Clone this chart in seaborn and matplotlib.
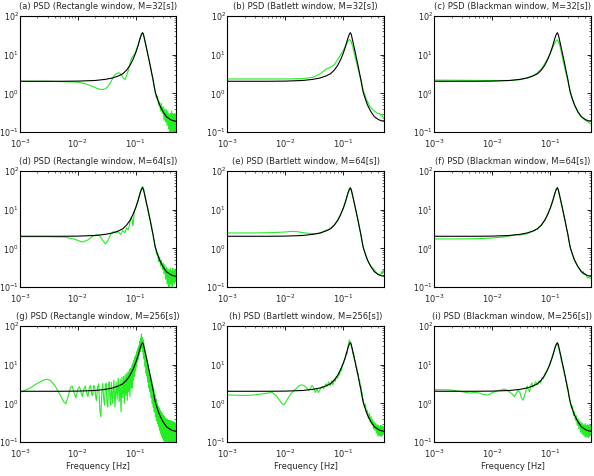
import numpy as np
import pandas as pd
import matplotlib
matplotlib.use("Agg")
import matplotlib.pyplot as plt
import seaborn as sns

# ---------------- data ----------------
true_freq = [0.001, 0.005, 0.01, 0.02, 0.03, 0.04, 0.05, 0.06, 0.07, 0.08, 0.09, 0.1,
             0.11, 0.12, 0.127, 0.132, 0.137, 0.142, 0.15, 0.16, 0.17, 0.18, 0.19, 0.2,
             0.21, 0.22, 0.24, 0.26, 0.28, 0.3, 0.34, 0.4, 0.45, 0.5]
true_psd = [2.05, 2.05, 2.07, 2.15, 2.3, 2.5, 2.8, 3.2, 4.0, 5.3, 7.5, 11,
            17, 27, 34, 37, 33, 26, 18, 11.5, 7.5, 5.0, 3.3, 2.3,
            1.5, 1.05, 0.7, 0.5, 0.4, 0.33, 0.25, 0.21, 0.195, 0.19]

freq_a = [0.001, 0.003, 0.006, 0.01, 0.014, 0.018, 0.022, 0.026, 0.03, 0.034, 0.038, 0.042,
          0.047, 0.052, 0.057, 0.062, 0.066, 0.07, 0.075, 0.08, 0.085, 0.09, 0.1, 0.11,
          0.12, 0.127, 0.132, 0.137, 0.142, 0.15, 0.16, 0.17, 0.18, 0.19, 0.2, 0.21,
          0.22, 0.23, 0.24, 0.25, 0.26, 0.27, 0.28, 0.29, 0.3, 0.31, 0.32, 0.33, 0.34,
          0.35, 0.36, 0.37, 0.38, 0.39, 0.4, 0.41, 0.42, 0.43, 0.44, 0.45, 0.46, 0.47,
          0.48, 0.49, 0.5]
psd_a = [2.05, 2.05, 2.0, 1.95, 1.75, 1.5, 1.32, 1.25, 1.3, 1.55, 2.1, 2.8,
         3.3, 3.4, 3.0, 2.4, 2.3, 2.9, 4.0, 6.0, 8.0, 9.0, 11.5, 17,
         27, 34, 37, 33, 26, 18, 11.5, 7.5, 5.0, 3.3, 2.3, 1.5,
         1.05, 0.75, 0.85, 0.5, 0.6, 0.35, 0.55, 0.3, 0.45, 0.2, 0.4, 0.18, 0.38,
         0.15, 0.35, 0.12, 0.3, 0.1, 0.3, 0.09, 0.35, 0.1, 0.3, 0.08, 0.28, 0.09,
         0.3, 0.1, 0.25]

freq_b = [0.001, 0.005, 0.01, 0.02, 0.03, 0.04, 0.05, 0.06, 0.07, 0.08, 0.09, 0.1,
          0.11, 0.12, 0.127, 0.132, 0.137, 0.145, 0.155, 0.165, 0.18, 0.2, 0.22, 0.25,
          0.28, 0.3, 0.33, 0.36, 0.39, 0.42, 0.44, 0.46, 0.48, 0.5]
psd_b = [2.35, 2.35, 2.35, 2.4, 2.6, 3.2, 4.2, 4.7, 5.5, 7.5, 10, 13,
         17.5, 22, 24.5, 24, 21, 16, 10.5, 7.0, 4.2, 2.2, 1.2, 0.7,
         0.48, 0.42, 0.36, 0.33, 0.3, 0.3, 0.27, 0.29, 0.24, 0.22]

freq_c = [0.001, 0.01, 0.02, 0.03, 0.04, 0.05, 0.06, 0.07, 0.08, 0.09, 0.1, 0.11,
          0.12, 0.127, 0.132, 0.137, 0.145, 0.155, 0.165, 0.18, 0.2, 0.22, 0.25, 0.3,
          0.35, 0.4, 0.45, 0.5]
psd_c = [2.2, 2.15, 2.15, 2.25, 2.5, 2.85, 3.4, 4.3, 5.8, 8.0, 11, 15.5,
         20.5, 23.5, 24, 22.5, 17.5, 11.5, 7.2, 4.0, 2.1, 1.15, 0.6, 0.31,
         0.24, 0.2, 0.18, 0.16]

freq_d = [0.001, 0.003, 0.006, 0.009, 0.012, 0.015, 0.018, 0.021, 0.024, 0.027, 0.03, 0.033,
          0.037, 0.041, 0.045, 0.05, 0.055, 0.06, 0.065, 0.07, 0.075, 0.08, 0.085, 0.09,
          0.095, 0.1, 0.11, 0.12, 0.127, 0.132, 0.137, 0.142, 0.15, 0.16, 0.17, 0.18,
          0.185, 0.19, 0.195, 0.2, 0.205, 0.21, 0.215, 0.22, 0.23, 0.24, 0.25, 0.26,
          0.27, 0.28, 0.29, 0.3, 0.31, 0.32, 0.33, 0.34, 0.35, 0.36, 0.37, 0.38,
          0.39, 0.4, 0.41, 0.42, 0.43, 0.44, 0.45, 0.46, 0.47, 0.48, 0.49, 0.5]
psd_d = [2.0, 2.0, 1.95, 1.7, 1.45, 1.65, 2.05, 2.25, 2.1, 1.6, 1.3, 1.55,
         2.3, 2.7, 2.5, 2.7, 2.3, 2.9, 2.5, 3.4, 3.0, 4.8, 6.5, 3.8,
         9.0, 11, 17, 28, 36, 40, 35, 27, 17, 12, 7.5, 5.5,
         4.2, 3.6, 2.6, 2.4, 1.7, 1.6, 1.1, 1.1, 0.7, 0.75, 0.45, 0.6,
         0.35, 0.5, 0.28, 0.42, 0.22, 0.38, 0.16, 0.33, 0.12, 0.3, 0.1, 0.28,
         0.1, 0.3, 0.12, 0.26, 0.1, 0.3, 0.13, 0.25, 0.12, 0.27, 0.14, 0.2]

freq_e = [0.001, 0.003, 0.006, 0.01, 0.013, 0.016, 0.02, 0.025, 0.03, 0.035, 0.04, 0.045,
          0.05, 0.055, 0.06, 0.07, 0.08, 0.09, 0.1, 0.11, 0.12, 0.127, 0.132, 0.137,
          0.142, 0.15, 0.16, 0.17, 0.18, 0.19, 0.2, 0.21, 0.22, 0.24, 0.26, 0.28,
          0.3, 0.32, 0.34, 0.36, 0.38, 0.4, 0.42, 0.44, 0.46, 0.47, 0.48, 0.49, 0.5]
psd_e = [2.5, 2.5, 2.55, 2.65, 2.75, 2.7, 2.55, 2.45, 2.4, 2.4, 2.45, 2.7,
         2.95, 3.0, 3.3, 4.0, 5.3, 7.5, 11, 16.5, 26, 33, 35, 31,
         25, 17.5, 11.5, 7.5, 5.0, 3.4, 2.3, 1.5, 1.05, 0.7, 0.5, 0.4,
         0.34, 0.31, 0.28, 0.25, 0.22, 0.21, 0.2, 0.21, 0.25, 0.22, 0.26, 0.24, 0.27]

freq_f = [0.001, 0.003, 0.006, 0.01, 0.015, 0.02, 0.025, 0.03, 0.035, 0.04, 0.05, 0.06,
          0.07, 0.08, 0.09, 0.1, 0.11, 0.12, 0.127, 0.132, 0.137, 0.142, 0.15, 0.16,
          0.17, 0.18, 0.19, 0.2, 0.21, 0.22, 0.24, 0.26, 0.3, 0.33, 0.35, 0.36,
          0.37, 0.38, 0.4, 0.42, 0.44, 0.46, 0.48, 0.5]
psd_f = [1.75, 1.75, 1.78, 1.85, 1.95, 2.1, 2.25, 2.2, 2.3, 2.4, 2.75, 3.2,
         4.0, 5.3, 7.5, 11, 17, 27, 34, 36, 32, 25, 17.5, 11.5,
         7.5, 5.0, 3.3, 2.3, 1.5, 1.05, 0.7, 0.5, 0.33, 0.28, 0.25, 0.22,
         0.25, 0.21, 0.22, 0.19, 0.17, 0.18, 0.17, 0.17]

freq_g = [0.001, 0.0015, 0.002, 0.0025, 0.0029, 0.0033, 0.004, 0.005, 0.0057, 0.0062, 0.0068, 0.0075,
          0.008, 0.0087, 0.0093, 0.01, 0.0107, 0.0114, 0.012, 0.0128, 0.0135, 0.0143, 0.015, 0.0158,
          0.0166, 0.0174, 0.018, 0.0188, 0.0196, 0.0205, 0.021, 0.022, 0.023, 0.024, 0.025, 0.026,
          0.027, 0.028, 0.029, 0.03, 0.031, 0.032, 0.033, 0.034, 0.035, 0.036, 0.037, 0.038,
          0.04, 0.042, 0.044, 0.046, 0.048, 0.05, 0.052, 0.054, 0.056, 0.058, 0.06, 0.062,
          0.064, 0.066, 0.068, 0.07, 0.072, 0.074, 0.076, 0.078, 0.08, 0.082, 0.084, 0.086,
          0.088, 0.09, 0.092, 0.094, 0.096, 0.098, 0.1, 0.102, 0.104, 0.106, 0.108, 0.11,
          0.112, 0.114, 0.116, 0.118, 0.12, 0.122, 0.124, 0.126, 0.128, 0.13, 0.132, 0.134,
          0.136, 0.138, 0.14, 0.143, 0.146, 0.149, 0.152, 0.155, 0.158, 0.161, 0.164, 0.167,
          0.17, 0.174, 0.178, 0.182, 0.186, 0.19, 0.194, 0.198, 0.202, 0.206, 0.21, 0.215,
          0.22, 0.225, 0.23, 0.235, 0.24, 0.245, 0.25, 0.255, 0.26, 0.265, 0.27, 0.275,
          0.28, 0.285, 0.29, 0.295, 0.3, 0.305, 0.31, 0.315, 0.32, 0.325, 0.33, 0.335,
          0.34, 0.345, 0.35, 0.355, 0.36, 0.365, 0.37, 0.375, 0.38, 0.385, 0.39, 0.395,
          0.4, 0.405, 0.41, 0.415, 0.42, 0.425, 0.43, 0.435, 0.44, 0.445, 0.45, 0.455,
          0.46, 0.465, 0.47, 0.475, 0.48, 0.485, 0.49, 0.495, 0.5]
psd_g = [1.9, 2.5, 3.3, 3.9, 4.2, 4.0, 2.9, 1.6, 1.1, 0.98, 1.5, 2.6,
         2.8, 1.8, 1.4, 2.3, 2.7, 1.9, 1.5, 2.4, 2.8, 1.8, 1.5, 2.5,
         2.9, 1.7, 1.6, 2.9, 2.7, 1.4, 1.2, 2.6, 3.2, 0.7, 0.45, 1.8,
         3.3, 1.3, 0.9, 2.8, 3.3, 1.0, 0.8, 2.9, 3.6, 1.4, 0.9, 3.5,
         1.0, 4.0, 0.8, 3.6, 1.3, 4.5, 1.1, 4.2, 0.6, 4.8, 1.4, 5.0,
         1.0, 5.5, 1.6, 6.0, 1.2, 6.5, 2.0, 7.5, 1.5, 8.0, 2.5, 9.5,
         2.5, 11, 4.0, 13, 5.0, 16, 7.0, 18, 9.0, 22, 12, 26,
         14, 30, 18, 40, 22, 48, 30, 62, 26, 50, 22, 44,
         18, 36, 14, 26, 9.0, 20, 6.0, 15, 5.0, 11, 3.5, 9.0,
         2.5, 6.5, 2.0, 5.0, 1.4, 3.8, 1.0, 2.8, 0.8, 2.2, 0.6, 1.7,
         0.45, 1.3, 0.35, 1.0, 0.3, 0.85, 0.25, 0.75, 0.2, 0.65, 0.17, 0.6,
         0.15, 0.55, 0.13, 0.5, 0.12, 0.48, 0.11, 0.45, 0.1, 0.42, 0.1, 0.4,
         0.09, 0.38, 0.09, 0.38, 0.08, 0.36, 0.09, 0.35, 0.08, 0.34, 0.09, 0.36,
         0.08, 0.33, 0.09, 0.35, 0.08, 0.32, 0.09, 0.34, 0.08, 0.3, 0.09, 0.33,
         0.08, 0.3, 0.1, 0.32, 0.09, 0.3, 0.1, 0.28, 0.12]

freq_h = [0.001, 0.002, 0.003, 0.004, 0.005, 0.006, 0.007, 0.008, 0.009, 0.0095, 0.01, 0.011,
          0.012, 0.013, 0.015, 0.017, 0.019, 0.021, 0.023, 0.025, 0.027, 0.029, 0.031, 0.033,
          0.035, 0.037, 0.04, 0.043, 0.046, 0.05, 0.053, 0.056, 0.06, 0.063, 0.066, 0.07,
          0.073, 0.076, 0.08, 0.083, 0.086, 0.09, 0.093, 0.096, 0.1, 0.104, 0.108, 0.112,
          0.116, 0.12, 0.124, 0.127, 0.13, 0.134, 0.138, 0.142, 0.146, 0.15, 0.155, 0.16,
          0.165, 0.17, 0.175, 0.18, 0.185, 0.19, 0.195, 0.2, 0.205, 0.21, 0.215, 0.22,
          0.23, 0.24, 0.25, 0.26, 0.27, 0.28, 0.29, 0.3, 0.31, 0.32, 0.33, 0.34,
          0.35, 0.36, 0.37, 0.38, 0.39, 0.4, 0.41, 0.42, 0.43, 0.44, 0.45, 0.46,
          0.47, 0.48, 0.49, 0.5]
psd_h = [1.65, 1.6, 1.65, 1.75, 1.85, 1.9, 1.6, 1.2, 0.95, 0.92, 1.0, 1.3,
         1.6, 1.9, 2.3, 2.8, 3.0, 2.9, 2.6, 2.2, 2.4, 2.9, 2.5, 1.9,
         2.4, 1.9, 2.3, 2.7, 2.4, 3.2, 2.8, 3.6, 2.9, 3.8, 3.0, 4.3,
         3.7, 5.0, 4.5, 6.2, 5.4, 8.0, 7.0, 10, 10.5, 13, 14, 20,
         19, 30, 37, 44, 36, 38, 28, 26, 19, 20, 13, 12.5,
         8.5, 8.5, 5.8, 6.0, 4.0, 4.1, 2.7, 2.8, 1.8, 1.9, 1.2, 1.3,
         0.8, 0.95, 0.55, 0.65, 0.4, 0.55, 0.32, 0.45, 0.28, 0.38, 0.22, 0.33,
         0.2, 0.3, 0.17, 0.28, 0.15, 0.27, 0.14, 0.25, 0.15, 0.27, 0.14, 0.26,
         0.15, 0.25, 0.16, 0.2]

freq_i = [0.001, 0.0015, 0.002, 0.003, 0.004, 0.005, 0.006, 0.007, 0.008, 0.009, 0.01, 0.012,
          0.014, 0.016, 0.018, 0.02, 0.022, 0.024, 0.026, 0.028, 0.03, 0.032, 0.034, 0.036,
          0.038, 0.04, 0.042, 0.044, 0.046, 0.048, 0.05, 0.053, 0.056, 0.06, 0.064, 0.068,
          0.072, 0.076, 0.08, 0.085, 0.09, 0.095, 0.1, 0.105, 0.11, 0.115, 0.12, 0.125,
          0.13, 0.135, 0.14, 0.145, 0.15, 0.155, 0.16, 0.165, 0.17, 0.175, 0.18, 0.185,
          0.19, 0.195, 0.2, 0.21, 0.22, 0.23, 0.24, 0.25, 0.26, 0.27, 0.28, 0.29,
          0.3, 0.31, 0.32, 0.33, 0.34, 0.35, 0.36, 0.37, 0.38, 0.39, 0.4, 0.41,
          0.42, 0.43, 0.44, 0.45, 0.46, 0.47, 0.48, 0.49, 0.5]
psd_i = [2.25, 2.25, 2.2, 2.0, 1.85, 1.9, 1.85, 1.7, 1.65, 1.7, 1.9, 2.1,
         2.2, 2.35, 2.2, 1.95, 1.75, 1.5, 1.8, 2.2, 1.9, 1.35, 1.2, 1.6,
         2.1, 2.8, 2.3, 2.0, 2.8, 3.4, 2.6, 3.0, 3.6, 3.0, 3.8, 3.3,
         4.6, 4.3, 5.8, 6.5, 7.8, 9.0, 12, 14, 18, 22, 28, 33,
         34, 31, 26, 20, 17, 12, 11, 8.0, 7.5, 5.3, 5.2, 3.6,
         3.6, 2.4, 2.4, 1.5, 1.15, 0.75, 0.85, 0.48, 0.6, 0.36, 0.48, 0.27,
         0.4, 0.22, 0.35, 0.18, 0.32, 0.16, 0.3, 0.15, 0.28, 0.14, 0.3, 0.13,
         0.27, 0.14, 0.28, 0.13, 0.26, 0.14, 0.27, 0.15, 0.2]

titles = ["(a) PSD (Rectangle window, M=32[s])", "(b) PSD (Batlett window, M=32[s])",
          "(c) PSD (Blackman window, M=32[s])", "(d) PSD (Rectangle window, M=64[s])",
          "(e) PSD (Bartlett window, M=64[s])", "(f) PSD (Blackman window, M=64[s])",
          "(g) PSD (Rectangle window, M=256[s])", "(h) PSD (Bartlett window, M=256[s])",
          "(i) PSD (Blackman window, M=256[s])"]
est_freqs = [freq_a, freq_b, freq_c, freq_d, freq_e, freq_f, freq_g, freq_h, freq_i]
est_psds = [psd_a, psd_b, psd_c, psd_d, psd_e, psd_f, psd_g, psd_h, psd_i]

# ---------------- plotting ----------------
sns.set_style("white")
plt.rcParams['font.family'] = ['DejaVu Sans']
plt.rcParams['mathtext.fontset'] = 'dejavusans'
plt.rcParams['axes.unicode_minus'] = False

fig = plt.figure(figsize=(5.94, 4.76), dpi=100)
lefts = [20 / 594, 227 / 594, 434 / 594]
bottoms = [1 - 132 / 476, 1 - 287 / 476, 1 - 442 / 476]
w = 157 / 594
h = 116 / 476

true_df = pd.DataFrame({"f": true_freq, "p": true_psd})
for k in range(9):
    r, c = divmod(k, 3)
    ax = fig.add_axes([lefts[c], bottoms[r], w if c else w - 1 / 594, h])
    ax.set_xscale("log")
    ax.set_yscale("log")
    est_df = pd.DataFrame({"f": est_freqs[k], "p": est_psds[k]})
    sns.lineplot(data=est_df, x="f", y="p", ax=ax, color="#22ee22", lw=0.8,
                 sort=False, estimator=None)
    sns.lineplot(data=true_df, x="f", y="p", ax=ax, color="black", lw=0.8,
                 sort=False, estimator=None)
    ax.set_xlim(1e-3, 0.5)
    ax.set_ylim(1e-1, 1e2)
    ax.set_title(titles[k], fontsize=6, pad=5)
    ax.set_ylabel("")
    if r == 2:
        ax.set_xlabel("Frequency [Hz]", fontsize=6, labelpad=1.5)
    else:
        ax.set_xlabel("")
    ax.tick_params(which="both", direction="in", top=True, right=True,
                   labelsize=6, color="black")
    ax.tick_params(axis="x", pad=4)
    ax.tick_params(axis="y", pad=1, labelsize=5.7)
    ax.tick_params(which="major", length=3, width=0.6)
    ax.tick_params(which="minor", length=1.5, width=0.4)
    ax.set_xticks([1e-3, 1e-2, 1e-1])
    ax.set_yticks([1e-1, 1e0, 1e1, 1e2])
    for s in ax.spines.values():
        s.set_color("black")
        s.set_linewidth(0.8)

fig.savefig("out.png", dpi=100)
